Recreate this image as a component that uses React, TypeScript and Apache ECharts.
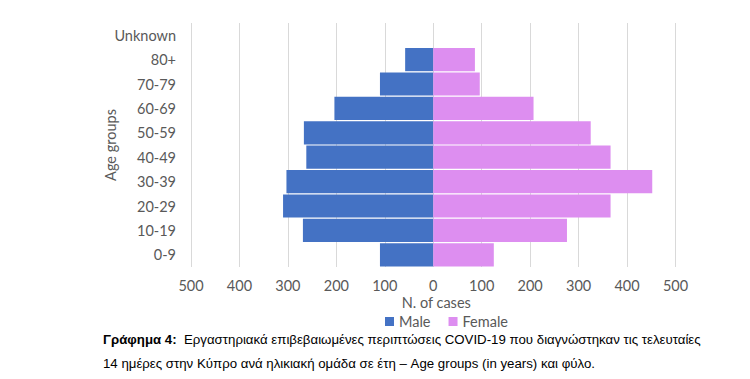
import React, { useEffect, useRef } from "react";
import * as echarts from "echarts";

const categories = ["0-9", "10-19", "20-29", "30-39", "40-49", "50-59", "60-69", "70-79", "80+", "Unknown"];
const maleValues = [110, 269, 310, 303, 262, 267, 204, 110, 58, 0];
const femaleValues = [125, 276, 366, 452, 366, 325, 207, 96, 86, 0];
const xTicks = [-500, -400, -300, -200, -100, 0, 100, 200, 300, 400, 500];

export default function App() {
  const ref = useRef<HTMLDivElement>(null);
  useEffect(() => {
    if (!ref.current) return;
    const chart = echarts.init(ref.current, null, { renderer: "svg" });
    const font = "Lato, 'Open Sans', sans-serif";
    const fs = 14.5;
    const capFont = "'Liberation Sans', Arial, sans-serif";
    const capSize = 13.25;
    chart.setOption({
      animation: false,
      backgroundColor: "#ffffff",
      grid: { left: 191, right: 74.5, top: 23, height: 244 },
      legend: {
        data: ["Male", "Female"],
        top: 310,
        left: 381,
        padding: 4,
        itemWidth: 9,
        itemHeight: 9,
        itemGap: 18,
        icon: "rect",
        textStyle: { color: "#595959", fontFamily: font, fontSize: fs, lineHeight: 14 },
      },
      xAxis: {
        type: "value",
        min: xTicks[0],
        max: xTicks[xTicks.length - 1],
        interval: 100,
        name: "N. of cases",
        nameLocation: "middle",
        nameGap: 28.5,
        nameMoveOverlap: false,
        nameTextStyle: { color: "#595959", fontFamily: font, fontSize: fs, lineHeight: 14, padding: [0, 0, 0, 6] },
        axisLabel: {
          color: "#595959",
          fontFamily: font,
          fontSize: fs,
          lineHeight: 14,
          margin: 11.5,
          formatter: (v: number) => String(Math.abs(v)),
        },
        axisLine: { show: false },
        axisTick: { show: false },
        splitLine: { show: true, lineStyle: { color: "#d9d9d9", width: 1 } },
      },
      yAxis: {
        type: "category",
        data: categories,
        name: "Age groups",
        nameLocation: "middle",
        nameGap: 73,
        nameMoveOverlap: false,
        nameTextStyle: { color: "#595959", fontFamily: font, fontSize: fs },
        axisLabel: { color: "#595959", fontFamily: font, fontSize: fs, margin: 15 },
        axisLine: { show: false },
        axisTick: { show: false },
        splitLine: { show: false },
      },
      series: [
        {
          name: "Male",
          type: "bar",
          data: maleValues.map((v) => -v),
          itemStyle: { color: "#4472C4" },
          barGap: "-100%",
          barCategoryGap: "5%",
        },
        {
          name: "Female",
          type: "bar",
          data: femaleValues,
          itemStyle: { color: "#DD8EF0" },
          barGap: "-100%",
          barCategoryGap: "5%",
        },
      ],
      graphic: [
        {
          type: "text",
          left: 103,
          top: 333,
          style: {
            text: "{b|Γράφημα 4:}  Εργαστηριακά επιβεβαιωμένες περιπτώσεις COVID-19 που διαγνώστηκαν τις τελευταίες",
            rich: {
              b: { fontWeight: "bold", fontFamily: capFont, fontSize: capSize, fill: "#000" },
            },
            fontFamily: capFont,
            fontSize: capSize,
            fill: "#000",
          },
        },
        {
          type: "text",
          left: 103,
          top: 357,
          style: {
            text: "14 ημέρες στην Κύπρο ανά ηλικιακή ομάδα σε έτη – Age groups (in years) και φύλο.",
            fontFamily: capFont,
            fontSize: capSize,
            fill: "#000",
          },
        },
      ],
    });
    return () => chart.dispose();
  }, []);
  return <div ref={ref} style={{ width: 750, height: 379, position: "absolute", left: 0, top: 0 }} />;
}
